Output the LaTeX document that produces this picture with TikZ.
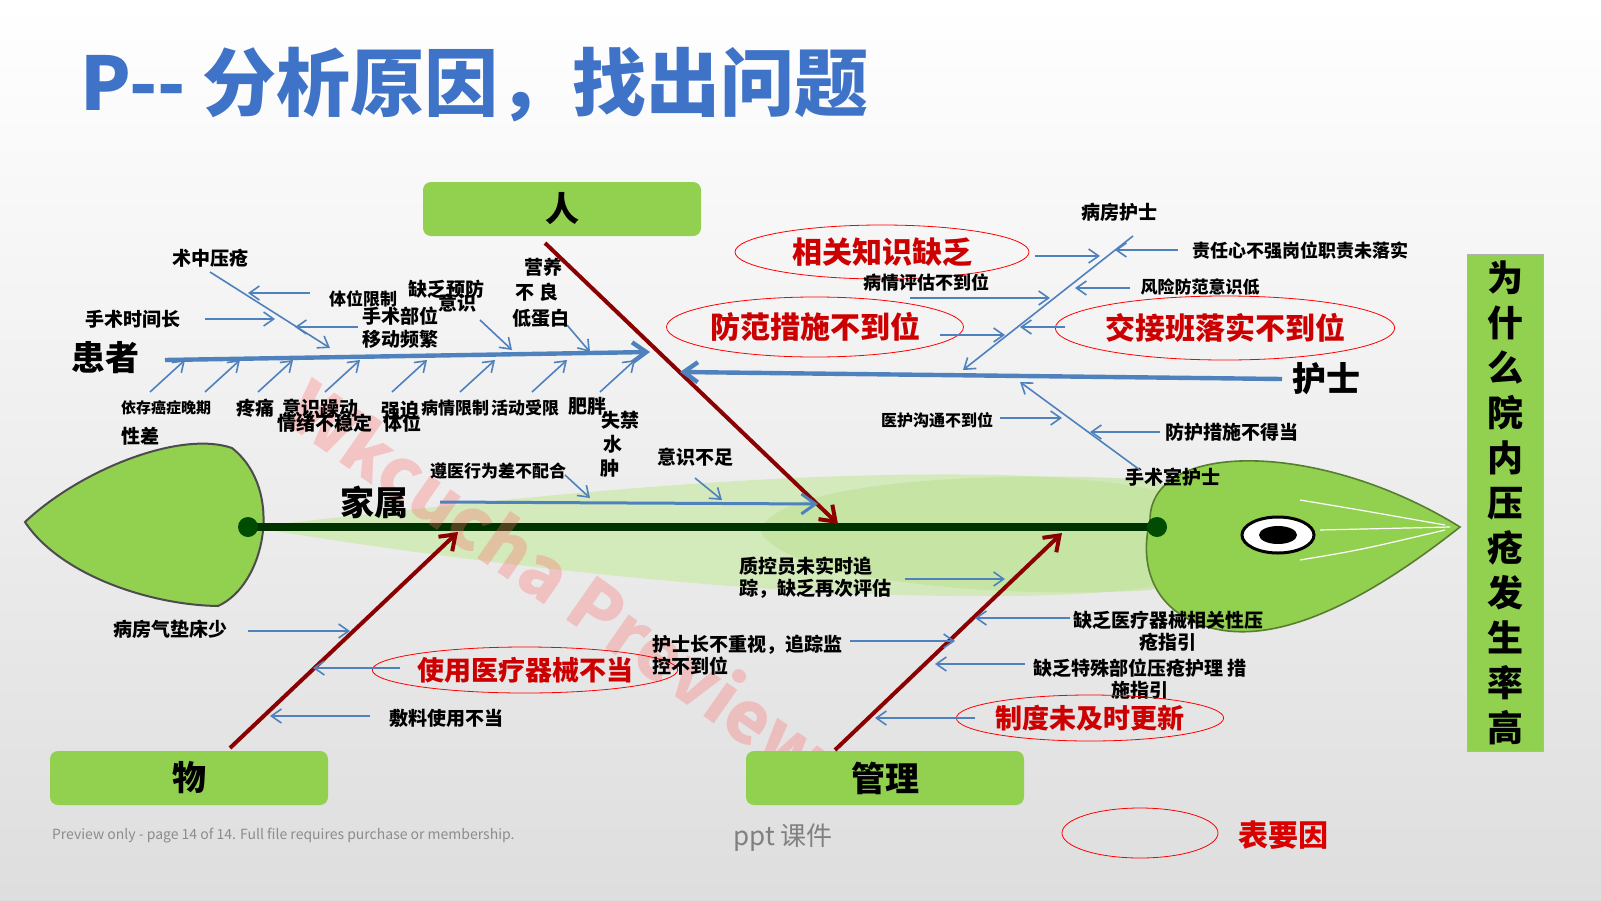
\documentclass[tikz,border=0pt]{standalone}
\usepackage{fontspec}
\setmainfont{Noto Sans CJK SC}
\usetikzlibrary{arrows.meta,shapes.geometric}
\definecolor{fgreen}{HTML}{92D050}
\definecolor{lblue}{HTML}{4F81BD}
\definecolor{dred}{HTML}{8B0000}
\definecolor{tblue}{HTML}{3F73C7}
\begin{document}
\begin{tikzpicture}[x=0.5pt,y=-0.5pt,
 lbl/.style={font=\bfseries\fontsize{9.5}{11}\selectfont,inner sep=0pt,align=center},
 big/.style={font=\bfseries\fontsize{17}{19}\selectfont,inner sep=0pt},
 key/.style={draw=red,ellipse,font=\bfseries\fontsize{15}{17}\selectfont,text=red!80!black,inner sep=0pt},
 bar/.style={fill=fgreen,rounded corners=4pt},
 arr/.style={lblue,line width=0.8pt,-{Straight Barb[length=5pt,width=7pt]}},
 bone/.style={lblue,line width=2.2pt,-{Straight Barb[length=7pt,width=10pt]}},
 rbone/.style={dred,line width=2pt,-{Straight Barb[length=7pt,width=10pt]}}]
\useasboundingbox (0,0) rectangle (1601,900);
\shade[top color=white,bottom color=black!13] (0,0) rectangle (1601,900);
% title
\node[anchor=west,text=tblue,font=\bfseries\fontsize{37}{40}\selectfont,inner sep=0pt] (title) at (80,85) {P-{}- 分析原因，找出问题};
% fish
\fill[fgreen!45,opacity=0.8] (250,527) .. controls (500,500) and (750,470) .. (1000,475) .. controls (1200,480) and (1250,520) .. (1250,540) .. controls (1230,590) and (1100,600) .. (900,595) .. controls (700,590) and (450,560) .. cycle;
\fill[fgreen!60,opacity=0.6] (760,530) .. controls (780,480) and (1000,470) .. (1150,480) .. controls (1220,500) and (1220,570) .. (1150,590) .. controls (1000,600) and (780,580) .. cycle;
\draw[fgreen!60!black,line width=0.8pt,fill=fgreen] (1150,520) .. controls (1150,440) and (1320,440) .. (1460,527) .. controls (1380,590) and (1270,660) .. (1190,620) .. controls (1150,600) and (1140,560) .. cycle;
\draw[white,line width=0.6pt] (1300,500) .. controls (1360,510) .. (1445,525);
\draw[white,line width=0.6pt] (1300,560) .. controls (1360,550) .. (1445,530);
\draw[white,line width=0.6pt] (1320,530) -- (1450,527);
\draw[black!70,line width=1pt,fill=fgreen] (25,522) .. controls (80,470) and (180,430) .. (232,448) .. controls (285,490) and (265,585) .. (218,606) .. controls (150,605) and (60,575) .. cycle;
\draw[line width=1.5pt,fill=white] (1278,535) ellipse (36 and 18);
\fill (1278,535) ellipse (19 and 9);
\draw[black!80!green,line width=4pt] (248,527) -- (1157,527);
\fill[black!70!green] (248,527) circle (10);
\fill[black!70!green] (1157,527) circle (10);
% watermark
\node[rotate=-35,text=red!60,opacity=0.3,font=\bfseries\fontsize{36}{38}\selectfont] (wm) at (560,580) {Wkcucha Preview};
% boxes
\node[bar,minimum width=139pt,minimum height=27pt,font=\bfseries\fontsize{17}{19}\selectfont] (ren) at (562,209) {人};
\node[bar,minimum width=139pt,minimum height=27pt,font=\bfseries\fontsize{17}{19}\selectfont] (wu) at (189,778) {物};
\node[bar,minimum width=139pt,minimum height=27pt,font=\bfseries\fontsize{17}{19}\selectfont] (gl) at (885,778) {管理};
\node[bar,rounded corners=0pt,draw=black!30,minimum width=38pt,minimum height=247pt,align=center,font=\bfseries\fontsize{18}{22.5}\selectfont] (why) at (1505,503) {为\\什\\么\\院\\内\\压\\疮\\发\\生\\率\\高};
% 人 bone
\draw[rbone] (545,243) -- (838,524);
% 患者
\node[big] (hz) at (105,358) {患者};
\draw[bone] (165,360) -- (650,352);
\draw[arr] (210,272) -- (330,348);
\draw[arr] (310,293) -- (248,293);
\draw[arr] (205,319) -- (275,319);
\draw[arr] (358,327) -- (295,327);
\draw[arr] (480,320) -- (512,350);
\draw[arr] (567,325) -- (590,352);
\foreach \x in {150,205,258,325,392,460,532,600} \draw[arr] (\x,392) -- (\x+35,360);
\node[lbl] (a1) at (210,258) {术中压疮};
\node[lbl] (a2) at (133,319) {手术时间长};
\node[lbl,font=\bfseries\fontsize{8.5}{10}\selectfont] (a3) at (363,299) {体位限制};
\node[lbl] (a4) at (446,289) {缺乏预防};
\node[lbl] (a5) at (457,303) {意识};
\node[lbl] (a6) at (400,316) {手术部位};
\node[lbl] (a7) at (400,339) {移动频繁};
\node[lbl] (a8) at (543,267) {营养};
\node[lbl] (a9) at (537,292) {不\ 良};
\node[lbl] (a10) at (541,318) {低蛋白};
\node[lbl,font=\bfseries\fontsize{7.5}{9}\selectfont] (b1) at (166,408) {依存癌症晚期};
\node[lbl] (b2) at (140,436) {性差};
\node[lbl] (b3) at (255,408) {疼痛};
\node[lbl] (b4) at (320,408) {意识躁动};
\node[lbl] (b5) at (325,423) {情绪不稳定};
\node[lbl] (b6) at (400,410) {强迫};
\node[lbl] (b7) at (402,423) {体位};
\node[lbl,font=\bfseries\fontsize{8.5}{10}\selectfont] (b8) at (455,408) {病情限制};
\node[lbl,font=\bfseries\fontsize{8.5}{10}\selectfont] (b9) at (525,408) {活动受限};
\node[lbl] (b10) at (587,406) {肥胖};
\node[lbl] (b11) at (620,420) {失禁};
\node[lbl] (b12) at (613,444) {水};
\node[lbl] (b13) at (610,468) {肿};
% 家属
\node[big] (js) at (374,502) {家属};
\draw[bone,line width=1.5pt] (440,502) -- (818,504);
\node[lbl,font=\bfseries\fontsize{8.5}{10}\selectfont] (c1) at (498,471) {遵医行为差不配合};
\draw[arr] (565,475) -- (590,498);
\node[lbl] (c2) at (695,457) {意识不足};
\draw[arr] (695,478) -- (722,500);
% 护士
\node[big] (hs) at (1326,379) {护士};
\draw[bone] (1282,379) -- (680,372);
\node[lbl] (d0) at (1119,212) {病房护士};
\draw[arr] (1133,236) -- (963,370);
\node[lbl,font=\bfseries\fontsize{9}{10}\selectfont] (d1) at (1300,251) {责任心不强岗位职责未落实};
\draw[arr] (1178,250) -- (1115,250);
\node[key,minimum width=147pt,minimum height=27pt] (k1) at (882,252) {相关知识缺乏};
\draw[arr] (1035,256) -- (1100,256);
\node[lbl,font=\bfseries\fontsize{9}{10}\selectfont] (d2) at (926,283) {病情评估不到位};
\draw[arr] (910,298) -- (1050,298);
\node[lbl,font=\bfseries\fontsize{8.5}{10}\selectfont] (d3) at (1200,287) {风险防范意识低};
\draw[arr] (1130,288) -- (1075,288);
\node[key,minimum width=120pt,minimum height=30pt] (k2) at (815,327) {防范措施不到位};
\draw[arr] (940,335) -- (1005,335);
\node[key,minimum width=155pt,minimum height=32pt] (k3) at (1225,328) {交接班落实不到位};
\draw[arr] (1065,327) -- (1020,327);
\node[lbl] (e0) at (1173,477) {手术室护士};
\draw[arr] (1140,470) -- (1020,382);
\node[lbl,font=\bfseries\fontsize{8}{10}\selectfont] (e1) at (937,420) {医护沟通不到位};
\draw[arr] (1000,418) -- (1062,418);
\node[lbl] (e2) at (1232,432) {防护措施不得当};
\draw[arr] (1160,432) -- (1090,432);
% 物
\draw[rbone] (230,748) -- (458,532);
\node[lbl] (f1) at (170,629) {病房气垫床少};
\draw[arr] (248,631) -- (350,631);
\node[key,font=\bfseries\fontsize{13.5}{15}\selectfont,minimum width=112pt,minimum height=23pt] (k4) at (525,670) {使用医疗器械不当};
\draw[arr] (400,668) -- (313,668);
\node[lbl] (f2) at (446,718) {敷料使用不当};
\draw[arr] (370,716) -- (270,716);
% 管理
\draw[rbone] (835,750) -- (1062,533);
\node[lbl,align=left] (g1) at (815,578) {质控员未实时追\\踪，缺乏再次评估};
\draw[arr] (905,579) -- (1005,579);
\node[lbl,align=left,anchor=west] (g2) at (652,655) {护士长不重视，追踪监\\控不到位};
\draw[arr] (850,641) -- (955,641);
\node[lbl] (g3) at (1168,631) {缺乏医疗器械相关性压\\疮指引};
\draw[arr] (1070,618) -- (975,618);
\node[lbl] (g4) at (1140,679) {缺乏特殊部位压疮护理\ 措\\施指引};
\draw[arr] (1025,664) -- (935,664);
\node[key,font=\bfseries\fontsize{13.5}{15}\selectfont,minimum width=112pt,minimum height=23pt] (k5) at (1090,718) {制度未及时更新};
\draw[arr] (975,718) -- (875,718);
% legend and footer
\node[draw=red,ellipse,minimum width=78pt,minimum height=25pt] (leg) at (1140,833) {};
\node[font=\bfseries\fontsize{15}{17}\selectfont,text=red!85!black] (legt) at (1283,835) {表要因};
\node[anchor=west,text=black!45,font=\fontsize{7}{8}\selectfont] (ft) at (45,836) {Preview only - page 14 of 14. Full file requires purchase or membership.};
\node[text=black!50,font=\fontsize{13}{15}\selectfont] (ppt) at (783,838) {ppt 课件};
\end{tikzpicture}
\end{document}
